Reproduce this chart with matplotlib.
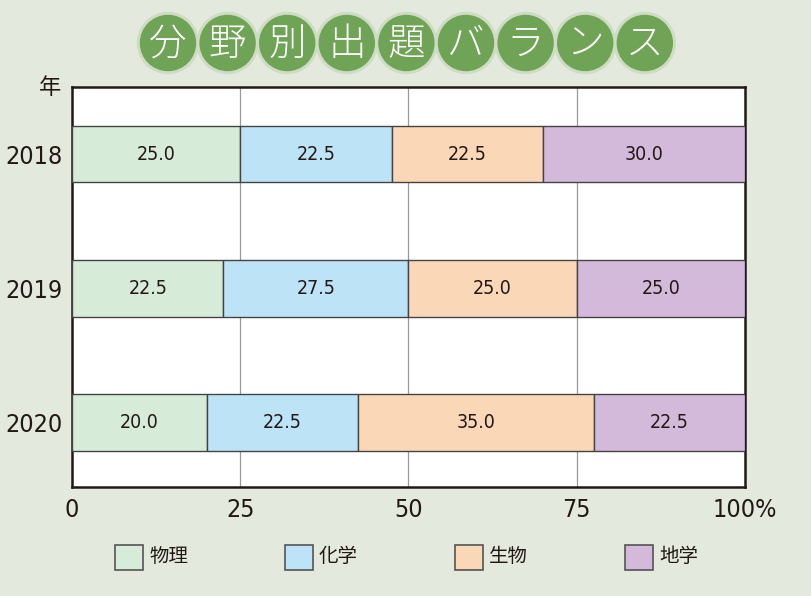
import matplotlib
matplotlib.use("Agg")
import matplotlib.pyplot as plt
from matplotlib import font_manager as fm
from matplotlib.patches import Circle, Rectangle
import numpy as np

# pick a narrow latin face if one is installed
names = {f.name for f in fm.fontManager.ttflist}
stretch = "normal"
if "Liberation Sans Narrow" in names:
    latin = "Liberation Sans Narrow"
elif any(f.name == "DejaVu Sans" and f.stretch == "condensed" for f in fm.fontManager.ttflist):
    latin = "DejaVu Sans"
    stretch = "condensed"
else:
    latin = "Noto Sans CJK JP"
plt.rcParams["font.family"] = [latin, "Noto Sans CJK JP", "DejaVu Sans"]
plt.rcParams["font.stretch"] = stretch

years = ["2018", "2019", "2020"]
fields = ["物理", "化学", "生物", "地学"]
shares = {
    "物理": [25.0, 22.5, 20.0],
    "化学": [22.5, 27.5, 22.5],
    "生物": [22.5, 25.0, 35.0],
    "地学": [30.0, 25.0, 22.5],
}
colors = ["#d6ebd8", "#bde3f7", "#f9d7b7", "#d3b9da"]
title_chars = list("分野別出題バランス")
xticks = [0, 25, 50, 75, 100]
xtick_labels = ["0", "25", "50", "75", "100%"]

bg = "#e3e9dc"
fig = plt.figure(figsize=(8.12, 5.96), dpi=100, facecolor=bg)
ax = fig.add_axes([72 / 812, 1 - 487 / 596, 673 / 812, 400 / 596])
ax.set_facecolor("white")

ypos = np.arange(len(years))
left = np.zeros(len(years))
for field, col in zip(fields, colors):
    vals = np.array(shares[field])
    ax.barh(ypos, vals, left=left, height=0.42, color=col,
            edgecolor="#444444", linewidth=1.0, zorder=3)
    for y, l, v in zip(ypos, left, vals):
        ax.text(l + v / 2, y, f"{v:.1f}", ha="center", va="center",
                fontsize=14, color="#231815", zorder=4)
    left += vals

ax.set_xlim(0, 100)
ax.set_ylim(2.48, -0.5)
ax.set_xticks(xticks)
ax.set_xticklabels(xtick_labels)
ax.set_yticks(ypos)
ax.set_yticklabels(years)
ax.tick_params(length=0, labelsize=18, labelcolor="#231815")
ax.tick_params(axis="x", pad=8)
ax.tick_params(axis="y", pad=7)
for xv in xticks[1:-1]:
    ax.axvline(xv, color="#999999", linewidth=0.9, zorder=1)
for sp in ax.spines.values():
    sp.set_linewidth(1.8)
    sp.set_color("#231815")

# overlay in pixel coordinates for title and legend
ov = fig.add_axes([0, 0, 1, 1], facecolor="none")
ov.set_xlim(0, 812)
ov.set_ylim(596, 0)
ov.axis("off")

ov.text(50, 88, "年", fontsize=16, ha="center", va="center",
        color="#231815", family=["Noto Sans CJK JP"])

cx0, step, cy = 168, 59.6, 43
for i, ch in enumerate(title_chars):
    cx = cx0 + i * step
    ov.add_patch(Circle((cx, cy), 30.5, color="#cddcc3", zorder=2))
    ov.add_patch(Circle((cx, cy), 27.5, color="#6fa356", zorder=3))
    ov.text(cx, cy + 1, ch, fontsize=27, color="white", ha="center",
            va="center", family=["Noto Sans CJK JP"], fontweight="light",
            zorder=4)

lx0, lstep, ly = 115, 170, 557
for i, (field, col) in enumerate(zip(fields, colors)):
    x = lx0 + i * lstep
    ov.add_patch(Rectangle((x, ly - 12.5), 28, 25, facecolor=col,
                           edgecolor="#555555", linewidth=1.2))
    ov.text(x + 34, ly, field, fontsize=14, ha="left", va="center",
            color="#231815", family=["Noto Sans CJK JP"])

fig.savefig("out.png", dpi=100, facecolor=bg)
